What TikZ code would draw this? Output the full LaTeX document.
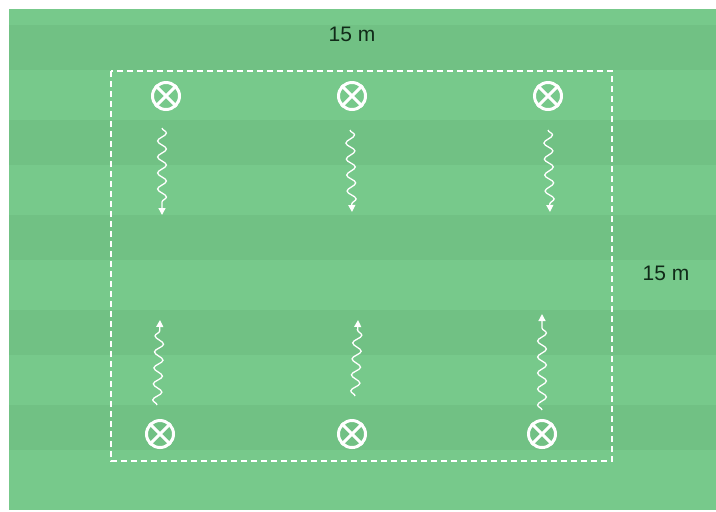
\documentclass[tikz,border=0pt]{standalone}
\usepackage{fontspec}
\setmainfont{Liberation Sans}
\usetikzlibrary{arrows.meta,decorations.pathmorphing}
\definecolor{drgrass}{HTML}{77C98B}
\definecolor{drstripe}{HTML}{71C184}
\definecolor{drink}{HTML}{102A18}
\tikzset{
  dr cone/.style={draw=white, line width=1.5pt, circle, minimum size=13.5pt, inner sep=0pt},
  dr run/.style={draw=white, line width=0.65pt, -{Triangle[length=3.5pt,width=3.5pt]},
    decorate, decoration={snake, amplitude=2.2pt, segment length=8pt, post length=3.5pt}},
  dr area/.style={draw=white, line width=0.8pt, dash pattern=on 3pt off 2pt},
  dr label/.style={font=\fontsize{10.5}{12}\selectfont, text=drink}
}
\begin{document}
\begin{tikzpicture}[x=0.5pt, y=-0.5pt]
  \useasboundingbox (0,0) rectangle (716,511);
  \fill[white] (0,0) rectangle (716,511);
  \fill[drgrass] (9,9) rectangle (716,510);
  % mown stripes
  \foreach \y in {25,120,215,310,405} {\fill[drstripe] (9,\y) rectangle (716,\y+45);}
  \draw[dr area] (111,71) rectangle (612,461);
  \node[dr label] (top) at (352,34) {15 m};
  \node[dr label] (side) at (666,273) {15 m};
  % cones
  \foreach \n/\x/\y in {a/166/96,b/352/96,c/548/96,d/160/434,e/352/434,f/542/434} {
    \node[dr cone] (\n) at (\x,\y) {};
    \draw[white, line width=1.5pt] (\n.45)--(\n.225) (\n.135)--(\n.315);
  }
  % runs
  \coordinate (a1) at (162,128); \coordinate (a2) at (162,215);
  \coordinate (b1) at (350,130); \coordinate (b2) at (352,212);
  \coordinate (c1) at (548,130); \coordinate (c2) at (550,212);
  \coordinate (d1) at (157,405); \coordinate (d2) at (160,320);
  \coordinate (e1) at (355,396); \coordinate (e2) at (358,320);
  \coordinate (f1) at (542,410); \coordinate (f2) at (542,314);
  \foreach \n in {a,b,c,d,e,f} {\draw[dr run] (\n1) -- (\n2);}
\end{tikzpicture}
\end{document}
